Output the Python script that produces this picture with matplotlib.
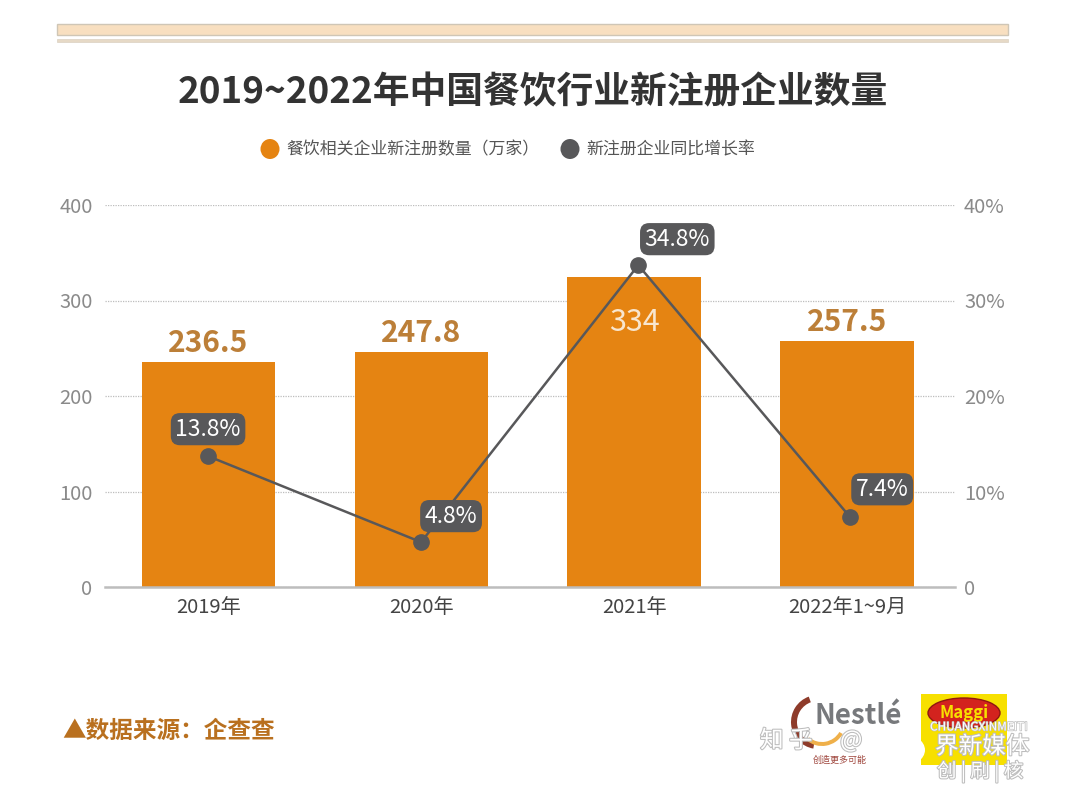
import matplotlib
matplotlib.use("Agg")
import matplotlib.pyplot as plt
import matplotlib.patheffects as pe
from matplotlib.patches import Rectangle, Ellipse, Wedge

plt.rcParams['font.family'] = ['Noto Sans CJK SC', 'DejaVu Sans']

categories = ['2019年', '2020年', '2021年', '2022年1~9月']
bar_values = [235.5, 246, 325, 257.5]
bar_labels = ['236.5', '247.8', '334', '257.5']
rate_x = [0, 1, 2.02, 3.015]
rate_values = [13.7, 4.7, 33.7, 7.3]
rate_labels = ['13.8%', '4.8%', '34.8%', '7.4%']
left_ticks = [0, 100, 200, 300, 400]
right_ticks = ['0', '10%', '20%', '30%', '40%']

ORANGE = '#E58412'
DARK = '#58585A'
GREY = '#8A8A8A'

W, H = 1080, 787
fig = plt.figure(figsize=(W / 100, H / 100), dpi=100, facecolor='white')

# page overlay, in pixels
bg = fig.add_axes([0, 0, 1, 1], zorder=0)
bg.set_xlim(0, W); bg.set_ylim(H, 0); bg.axis('off')
bg.add_patch(Rectangle((57, 24), 951, 11, fc='#F8DFC0', ec='#CFC6B6', lw=1))
bg.add_patch(Rectangle((57, 39), 951, 2.5, fc='#E6D9C6', ec='#DAD1C2', lw=0.5))
bg.text(533, 93, '2019~2022年中国餐饮行业新注册企业数量', ha='center', va='center',
        fontsize=26.5, fontweight='bold', color='#333333')
bg.add_patch(Ellipse((270, 149), 19, 20, fc=ORANGE, ec='none'))
bg.text(286, 149, '餐饮相关企业新注册数量（万家）', ha='left', va='center', fontsize=12.2, color='#555555')
bg.add_patch(Ellipse((570, 149), 19, 20, fc=DARK, ec='none'))
bg.text(586, 149, '新注册企业同比增长率', ha='left', va='center', fontsize=12.2, color='#555555')
bg.text(62, 731, '▲数据来源：企查查', ha='left', va='center', fontsize=17,
        fontweight='bold', color='#B9701F')

# logos and watermark
halo = [pe.withStroke(linewidth=1.5, foreground='#BDBDBD')]
bg.add_patch(Wedge((818, 722), 27, 100, 250, width=6, fc='#8E3B2A', ec='none'))
bg.add_patch(Wedge((822, 722), 24, 30, 130, width=4, fc='#EFB04A', ec='none'))
bg.text(858, 716, 'Nestlé', ha='center', va='center', fontsize=20, fontweight='bold', color='#77797C')
bg.text(840, 760, '创造更多可能', ha='center', va='center', fontsize=6.5, color='#A0483F')
bg.add_patch(Rectangle((921, 694), 86, 71, fc='#F7E000', ec='none'))
bg.add_patch(Ellipse((964, 713), 72, 30, fc='#D3231E', ec='#8F1712', lw=1))
bg.text(964, 713, 'Maggi', ha='center', va='center', fontsize=12, fontweight='bold', color='#F7E000')
bg.text(760, 741, '知 乎', ha='left', va='center', fontsize=17, color='white', path_effects=halo)
bg.text(840, 741, '@', ha='left', va='center', fontsize=17, color='white', path_effects=halo)
bg.add_patch(Ellipse((900, 750), 50, 34, fc='white', ec='none', zorder=3))
bg.text(930, 727, 'CHUANGXINMEITI', ha='left', va='center', fontsize=8.5, color='white',
        path_effects=[pe.withStroke(linewidth=1, foreground='#BDBDBD')], zorder=4)
bg.text(935, 747, '界新媒体', ha='left', va='center', fontsize=17, color='white',
        path_effects=halo, zorder=4)
bg.text(937, 772, '创 | 刷 | 核', ha='left', va='center', fontsize=14, color='white',
        path_effects=halo, zorder=4)

# chart
ax = fig.add_axes([105 / W, 1 - 587 / H, 850 / W, 382 / H], zorder=2)
ax.patch.set_alpha(0)
xs = list(range(len(categories)))
ax.set_xlim(-0.484, 3.507)
ax.set_ylim(0, 400)
ax.set_yticks(left_ticks)
ax.grid(axis='y', color='#BDBDBD', lw=0.9, ls=(0, (1, 1)), zorder=0)
ax.set_axisbelow(True)
ax.bar(xs, bar_values, width=0.625, color=ORANGE, zorder=2)
for s in ['top', 'left', 'right']:
    ax.spines[s].set_visible(False)
ax.spines['bottom'].set_color('#BDBDBD')
ax.spines['bottom'].set_linewidth(1.8)
ax.set_xticks(xs, categories)
ax.tick_params(axis='x', length=0, labelsize=14.5, labelcolor='#444444', pad=7)
ax.tick_params(axis='y', length=0, labelsize=14.5, labelcolor=GREY, pad=9)

for x, v, t in zip(xs, bar_values, bar_labels):
    if t == '334':
        ax.text(x, v - 48, t, ha='center', va='center', fontsize=22, color='#F8E6CF')
    else:
        ax.text(x, v + 20, t, ha='center', va='center', fontsize=21.5,
                fontweight='bold', color='#BC7F38')

ax2 = ax.twinx()
ax2.patch.set_alpha(0)
ax2.set_ylim(0, 40)
ax2.set_yticks([0, 10, 20, 30, 40], right_ticks)
ax2.tick_params(axis='y', length=0, labelsize=14.5, labelcolor=GREY, pad=6.5)
for s in ax2.spines.values():
    s.set_visible(False)
ax2.plot(rate_x, rate_values, color=DARK, lw=1.8, marker='o', ms=11, mfc=DARK, mec=DARK, zorder=3)

offsets = [(0, 27), (30, 26), (39, 26), (32, 28)]
for x, v, t, (dx, dy) in zip(rate_x, rate_values, rate_labels, offsets):
    ax2.annotate(t, (x, v), xytext=(dx * 0.72, dy * 0.72), textcoords='offset points',
                 ha='center', va='center', fontsize=16.5, color='white', zorder=5,
                 bbox=dict(boxstyle='round,pad=0.2,rounding_size=0.4', fc=DARK, ec='none'))

fig.savefig('out.png', dpi=100)
